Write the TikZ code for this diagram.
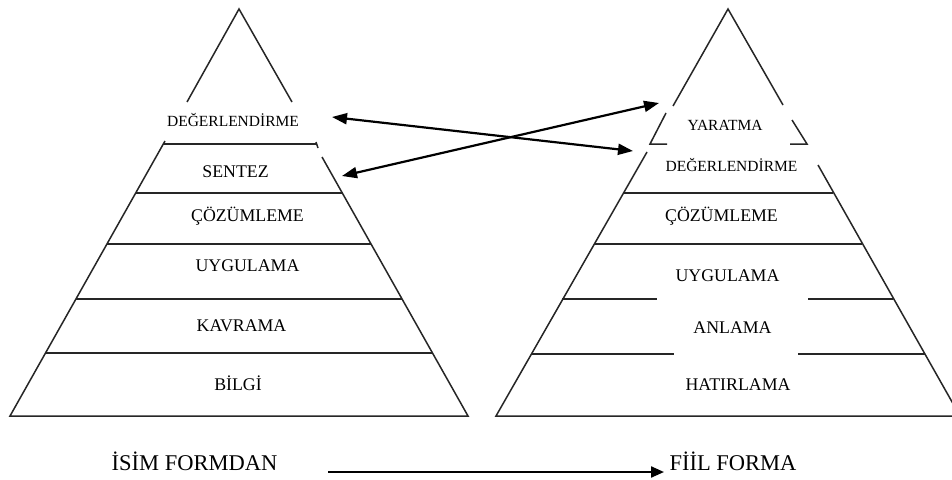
\documentclass[tikz,border=0pt]{standalone}
\usepackage{fontspec}
\setmainfont{Liberation Serif}
\usetikzlibrary{arrows.meta}
\tikzset{
  edge/.style={line width=1.5pt, black!85},
  lbl/.style={anchor=base, inner sep=0pt, text=black},
  small/.style={lbl, font=\fontsize{15.5}{17}\selectfont},
  mid/.style={lbl, font=\fontsize{17.8}{20}\selectfont},
  big/.style={lbl, font=\fontsize{22.5}{25}\selectfont},
  link/.style={line width=2.2pt, black, {Triangle[length=15pt,width=11pt]}-{Triangle[length=15pt,width=11pt]}},
  flow/.style={line width=2.2pt, black, -{Triangle[length=13pt,width=11pt]}}
}
\begin{document}
\begin{tikzpicture}[x=1pt,y=-1pt]
\clip (0,0) rectangle (952,479);
\fill[white] (0,0) rectangle (952,479);
% ---------- left pyramid ----------
\draw[edge] (187,102) -- (239,9) -- (292,102);
\draw[edge] (165,141) -- (10,416) -- (468,416) -- (322,157);
\draw[edge] (316,142) -- (318,148);
\draw[edge] (163,144) -- (317,144);
\draw[edge] (135.5,193) -- (342.5,193);
\draw[edge] (107,244) -- (371,244);
\draw[edge] (76,299) -- (402,299);
\draw[edge] (45.5,353) -- (432.5,353);
% ---------- right pyramid ----------
\draw[edge] (673,106) -- (728,9) -- (783,105);
\draw[edge] (666,113) -- (650,144) -- (667,144);
\draw[edge] (792,120) -- (807,144) -- (790,144);
\draw[edge] (647,152) -- (496,416) -- (960,416) -- (818,165);
\draw[edge] (623,193) -- (833,193);
\draw[edge] (594,244) -- (862,244);
\draw[edge] (562,299) -- (657,299);
\draw[edge] (808,299) -- (893,299);
\draw[edge] (531,354) -- (674,354);
\draw[edge] (798,354) -- (925,354);
% ---------- left labels ----------
\node[small] (ldeg) at (233,126) {DEĞERLENDİRME};
\node[mid] (lsen) at (235.5,177) {SENTEZ};
\node[mid] (lcoz) at (247.5,221) {ÇÖZÜMLEME};
\node[mid] (luyg) at (247.5,271) {UYGULAMA};
\node[mid] (lkav) at (241.5,331) {KAVRAMA};
\node[mid] (lbil) at (238,390) {BİLGİ};
\node[big] (isim) at (194.5,470) {İSİM FORMDAN};
% ---------- right labels ----------
\node[small] (ryar) at (725,130) {YARATMA};
\node[small] (rdeg) at (731.5,171) {DEĞERLENDİRME};
\node[mid] (rcoz) at (721.5,221) {ÇÖZÜMLEME};
\node[mid] (ruyg) at (727.5,281) {UYGULAMA};
\node[mid] (ranl) at (732.5,333) {ANLAMA};
\node[mid] (rhat) at (738,390) {HATIRLAMA};
\node[big] (fiil) at (733,470) {FİİL FORMA};
% ---------- connectors ----------
\coordinate (a1) at (332,117);
\coordinate (a2) at (633,151);
\coordinate (b1) at (342,176);
\coordinate (b2) at (659,103);
\coordinate (c1) at (328,472);
\coordinate (c2) at (664,472);
\draw[link] (a1) -- (a2);
\draw[link] (b1) -- (b2);
\draw[flow] (c1) -- (c2);
\end{tikzpicture}
\end{document}
